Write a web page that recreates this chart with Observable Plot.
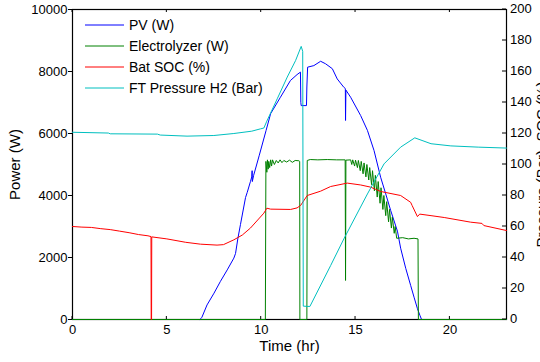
<!DOCTYPE html>
<html><head><meta charset="utf-8">
<script src="https://cdn.jsdelivr.net/npm/d3@7"></script>
<script src="https://cdn.jsdelivr.net/npm/@observablehq/plot@0.6"></script>
<style>
body{margin:0;background:#fff;}
#chart{position:relative;width:540px;height:362px;overflow:hidden;}
</style>
</head><body><div id="chart"></div>
<script>
// ---- data ----
const pvTime  = [0,6.75,6.85,7.13,7.5,7.84,8.2,8.55,8.64,8.76,8.9,9.17,9.26,9.43,9.5,9.52,9.53,9.6,9.9,10.26,10.5,11.02,11.55,11.9,12.08,12.1,12.12,12.4,12.42,12.46,12.79,13.15,13.41,13.77,14.03,14.38,14.46,14.47,14.49,14.74,15.27,15.63,15.98,16.33,16.6,16.86,17.22,17.39,17.66,17.92,18.1,18.28,18.42,18.5,23];
const pvWatts = [0,0,60,470,850,1230,1600,1980,2130,2600,3060,3935,4100,4450,4600,4800,4450,4650,5300,6100,6640,7170,7710,7900,7980,7000,6900,6900,7500,8140,8190,8330,8250,8090,7760,7490,7450,6420,7400,7170,6580,6100,5450,4590,4050,3520,2850,2300,1650,1100,720,350,120,0,0];

const elTime  = [0,10.22,10.25,10.3,10.33,10.37,10.4,10.45,10.5,10.55,10.6,10.7,10.8,10.9,11.0,11.1,11.2,11.35,11.5,11.65,11.8,12.0,12.04,12.05,12.42,12.44,12.6,13.0,13.5,14.0,14.45,14.47,14.49,14.74,14.8,14.85,14.95,15.0,15.1,15.15,15.25,15.3,15.4,15.45,15.55,15.6,15.7,15.75,15.85,15.9,16.0,16.05,16.15,16.2,16.3,16.35,16.45,16.5,16.6,16.65,16.75,16.8,16.9,16.95,17.05,17.1,17.18,17.5,17.8,18.1,18.31,18.33,23];
const elWatts = [0,0,5100,4750,5150,4850,5100,4900,5150,4950,5150,5000,5130,5050,5150,5060,5130,5080,5140,5070,5130,5120,5100,0,0,5130,5160,5150,5160,5150,5150,1260,5140,5150,5000,5150,4950,5140,4900,5130,4800,5100,4700,5050,4600,5000,4500,4900,4350,4800,4150,4650,3950,4450,3750,4250,3550,4000,3350,3800,3150,3550,2950,3300,2780,3000,2620,2640,2600,2620,2600,0,0];

const socTime = [0,0.5,1.0,1.5,2.0,2.5,3.0,3.5,4.0,4.16,4.17,4.19,4.2,5.0,6.0,6.78,7.66,8.0,8.55,9.0,9.43,10.14,10.3,10.5,11.56,11.9,12.09,12.44,13.15,13.68,14.56,15.27,15.8,16.33,17.39,17.92,18.0,18.28,18.4,19.0,19.7,21.1,21.7,21.8,23];
const socPct  = [60,59.6,59.4,58.6,58,57,56,54.8,54,53.5,0,0,53.3,52,49.8,48.6,48,48.3,51.4,54.5,59,68.6,71.8,71.2,71,72,73.6,80,82.8,85.8,88,86.8,85.4,82.6,80,75.6,73.5,66.4,68,67,65.8,62.8,62,60.6,57.4];

const ftTime  = [0,1.9,2.0,4.5,4.65,6.07,7.49,8.55,9.5,9.96,10.14,10.3,10.85,11.38,11.82,12.12,12.2,12.23,12.58,13.68,14.38,15.63,16.51,17.39,18.14,19.0,20.05,21.5,23];
const ftBar   = [120.8,120.3,119.8,119.6,119,118.3,118.7,120,121.5,123,123.5,128,142.4,156.4,167,176.2,173,8.6,8.4,34.8,52,81,100.4,111.2,117.2,113.4,112,111.2,110.6];

const xTicks = [0,5,10,15,20];
const leftTicks = [0,2000,4000,6000,8000,10000];
const rightTicks = [0,20,40,60,80,100,120,140,160,180,200];
const legendLabels = ["PV (W)","Electrolyzer (W)","Bat SOC (%)","FT Pressure H2 (Bar)"];
const seriesColors = ["#0000ff","#008000","#ff0000","#00bfbf"];

// right axis (0-200) shares the left axis (0-10000) frame
const rightScale = 10000 / 200;
const toRows = (t, v, series, k = 1) => t.map((x, i) => ({t: x, v: v[i] * k, series}));
const rows = [
  ...toRows(pvTime, pvWatts, legendLabels[0]),
  ...toRows(elTime, elWatts, legendLabels[1]),
  ...toRows(socTime, socPct, legendLabels[2], rightScale),
  ...toRows(ftTime, ftBar, legendLabels[3], rightScale)
];
const FONT = "'Liberation Sans', Arial, sans-serif";

const plot = Plot.plot({
  width: 540, height: 362,
  marginLeft: 72, marginRight: 34, marginTop: 9, marginBottom: 43,
  style: {fontFamily: FONT, fontSize: "13px", background: "white", color: "black"},
  x: {domain: [0, 23], ticks: xTicks, tickFormat: d => String(d), tickSize: 0, tickPadding: 5, label: null},
  y: {domain: [0, 10000], ticks: leftTicks, tickFormat: d => String(d), tickSize: 4, tickPadding: 1, label: null},
  color: {domain: legendLabels, range: seriesColors},
  marks: [
    Plot.frame({stroke: "black", strokeWidth: 1.2}),
    Plot.line(rows, {x: "t", y: "v", z: "series", stroke: "series", strokeWidth: 1}),
    Plot.text(["Power (W)"], {text: d => d, frameAnchor: "left", textAnchor: "middle", rotate: -90, dx: -57, fontSize: 15}),
    Plot.text(["Time (hr)"], {text: d => d, frameAnchor: "bottom", textAnchor: "middle", dy: 31, fontSize: 15}),
    Plot.text(["Pressure (Bar), SOC (%)"], {text: d => d, frameAnchor: "right", textAnchor: "middle", rotate: -90, dx: 36, fontSize: 15})
  ]
});

// scales from the plot
const xs = plot.scale("x"), ys = plot.scale("y");
const X = xs.apply ? xs.apply : d3.scaleLinear(xs.domain, xs.range);
const Y = ys.apply ? ys.apply : d3.scaleLinear(ys.domain, ys.range);
const svg = d3.select(plot);
svg.selectAll('g[aria-label="x-axis"] text').attr("font-weight", "bold");

const [x0, x1] = xs.range, [yb, yt] = ys.range;
const g = svg.append("g").attr("stroke", "black").attr("font-family", FONT).attr("font-size", 13).attr("text-anchor", "start");
// x ticks inside at top and bottom
xTicks.forEach(t => {
  g.append("line").attr("x1", X(t)).attr("x2", X(t)).attr("y1", yb).attr("y2", yb - 3);
  g.append("line").attr("x1", X(t)).attr("x2", X(t)).attr("y1", yt).attr("y2", yt + 3);
});
// right axis: inward ticks + labels
rightTicks.forEach(v => {
  const y = Y(v * rightScale);
  g.append("line").attr("x1", x1).attr("x2", x1 - 4).attr("y1", y).attr("y2", y);
  g.append("text").attr("x", x1 + 4).attr("y", y).attr("dy", "0.32em").attr("stroke", "none").attr("fill", "black").text(v);
});

// legend (no box), top-left inside the axes
const lg = svg.append("g").attr("font-family", FONT).attr("font-size", 14).attr("text-anchor", "start");
legendLabels.forEach((lab, i) => {
  const y = 25 + 21 * i;
  lg.append("line").attr("x1", 85).attr("x2", 124).attr("y1", y).attr("y2", y)
    .attr("stroke", seriesColors[i]).attr("stroke-width", 1);
  lg.append("text").attr("x", 129).attr("y", y).attr("dy", "0.35em").attr("fill", "black").text(lab);
});

document.getElementById("chart").appendChild(plot);
</script>
</body></html>
